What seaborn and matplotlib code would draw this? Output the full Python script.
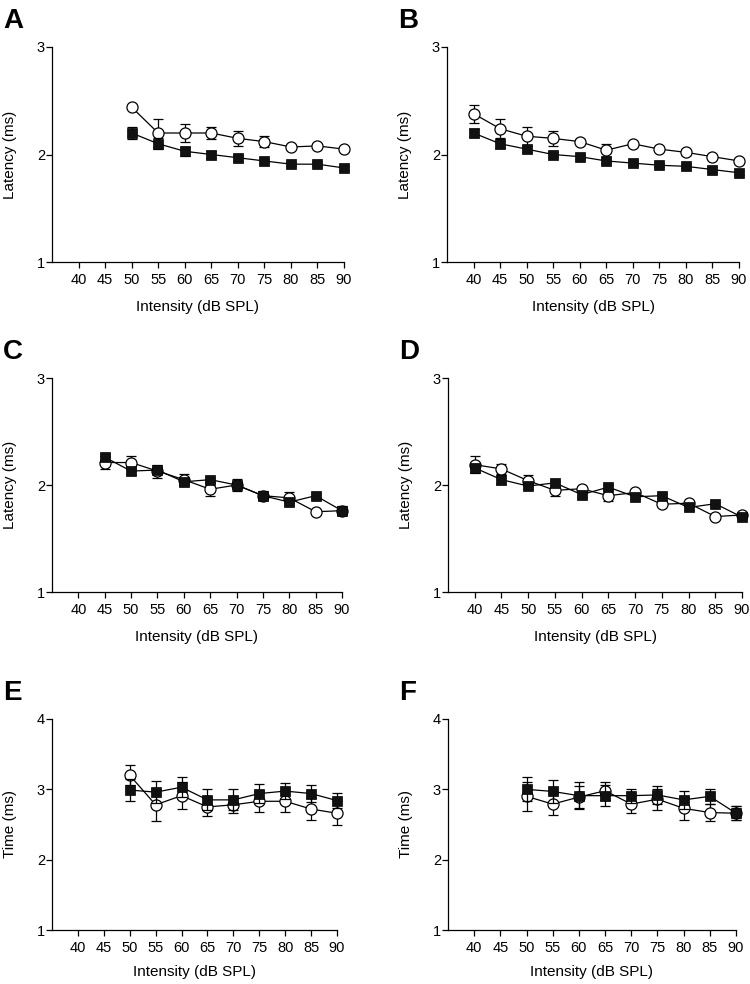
import matplotlib
matplotlib.use("Agg")
import matplotlib.pyplot as plt
import pandas as pd
import seaborn as sns

sns.set_theme(style="ticks")
plt.rcParams['font.family'] = ['Liberation Sans', 'DejaVu Sans']

intensity_ticks = [40, 45, 50, 55, 60, 65, 70, 75, 80, 85, 90]

# Panel A (latency, from 50 dB)
a_x = [50, 55, 60, 65, 70, 75, 80, 85, 90]
a_open = [2.44, 2.20, 2.20, 2.20, 2.15, 2.12, 2.07, 2.08, 2.05]
a_open_err = [0.02, 0.13, 0.08, 0.06, 0.07, 0.05, 0.02, 0.02, 0.02]
a_fill = [2.20, 2.10, 2.03, 2.00, 1.97, 1.94, 1.91, 1.91, 1.875]
a_fill_err = [0.06, 0.05, 0.04, 0.03, 0.03, 0.02, 0.02, 0.02, 0.02]

# Panel B (latency, from 40 dB)
b_x = [40, 45, 50, 55, 60, 65, 70, 75, 80, 85, 90]
b_open = [2.38, 2.24, 2.17, 2.15, 2.12, 2.04, 2.10, 2.05, 2.02, 1.98, 1.94]
b_open_err = [0.085, 0.09, 0.09, 0.07, 0.02, 0.06, 0.02, 0.02, 0.02, 0.02, 0.02]
b_fill = [2.20, 2.10, 2.05, 2.00, 1.98, 1.94, 1.92, 1.90, 1.89, 1.86, 1.83]
b_fill_err = [0.04, 0.04, 0.03, 0.02, 0.02, 0.02, 0.02, 0.02, 0.02, 0.02, 0.02]

# Panel C (latency, from 45 dB)
c_x = [45, 50, 55, 60, 65, 70, 75, 80, 85, 90]
c_open = [2.21, 2.21, 2.13, 2.05, 1.96, 2.00, 1.90, 1.88, 1.75, 1.76]
c_open_err = [0.06, 0.06, 0.06, 0.05, 0.06, 0.06, 0.04, 0.05, 0.02, 0.04]
c_fill = [2.26, 2.13, 2.14, 2.03, 2.05, 2.00, 1.90, 1.84, 1.90, 1.76]
c_fill_err = [0.03, 0.03, 0.03, 0.03, 0.02, 0.03, 0.03, 0.03, 0.02, 0.03]

# Panel D (latency, from 40 dB)
d_x = [40, 45, 50, 55, 60, 65, 70, 75, 80, 85, 90]
d_open = [2.19, 2.15, 2.04, 1.95, 1.965, 1.90, 1.93, 1.82, 1.83, 1.705, 1.72]
d_open_err = [0.08, 0.05, 0.05, 0.05, 0.02, 0.05, 0.02, 0.02, 0.02, 0.02, 0.02]
d_fill = [2.16, 2.05, 1.99, 2.02, 1.91, 1.98, 1.89, 1.90, 1.79, 1.825, 1.70]
d_fill_err = [0.04, 0.04, 0.03, 0.02, 0.02, 0.02, 0.02, 0.02, 0.02, 0.02, 0.02]

# Panel E (time, from 50 dB)
e_x = [50, 55, 60, 65, 70, 75, 80, 85, 90]
e_open = [3.20, 2.78, 2.91, 2.75, 2.78, 2.83, 2.83, 2.72, 2.66]
e_open_err = [0.14, 0.23, 0.19, 0.13, 0.12, 0.15, 0.15, 0.15, 0.17]
e_fill = [2.99, 2.96, 3.03, 2.85, 2.85, 2.94, 2.975, 2.94, 2.84]
e_fill_err = [0.15, 0.16, 0.14, 0.15, 0.15, 0.14, 0.11, 0.12, 0.11]

# Panel F (time, from 50 dB)
f_x = [50, 55, 60, 65, 70, 75, 80, 85, 90]
f_open = [2.90, 2.79, 2.89, 2.98, 2.79, 2.86, 2.73, 2.67, 2.66]
f_open_err = [0.21, 0.16, 0.16, 0.13, 0.12, 0.15, 0.16, 0.12, 0.10]
f_fill = [3.00, 2.97, 2.91, 2.91, 2.91, 2.92, 2.85, 2.90, 2.66]
f_fill_err = [0.17, 0.16, 0.19, 0.15, 0.10, 0.13, 0.13, 0.11, 0.10]

panels = [
    ("A", a_x, a_open, a_open_err, a_fill, a_fill_err, "Latency (ms)", [1, 2, 3]),
    ("B", b_x, b_open, b_open_err, b_fill, b_fill_err, "Latency (ms)", [1, 2, 3]),
    ("C", c_x, c_open, c_open_err, c_fill, c_fill_err, "Latency (ms)", [1, 2, 3]),
    ("D", d_x, d_open, d_open_err, d_fill, d_fill_err, "Latency (ms)", [1, 2, 3]),
    ("E", e_x, e_open, e_open_err, e_fill, e_fill_err, "Time (ms)", [1, 2, 3, 4]),
    ("F", f_x, f_open, f_open_err, f_fill, f_fill_err, "Time (ms)", [1, 2, 3, 4]),
]

# axes rectangles in pixels: left, top, right (x=90), bottom
rects_px = [
    (52, 47, 344, 262),
    (447, 47, 739, 262),
    (52, 378, 342, 592),
    (448, 378, 742, 592),
    (52, 719, 337, 930),
    (448, 719, 736, 930),
]
xlabel_gap = [38, 38, 38, 38, 35, 35]

W, H = 750, 984
fig = plt.figure(figsize=(W / 100, H / 100), dpi=100)

for (letter, x, op, op_err, fl, fl_err, ylab, yticks), (l, t, r, b), gap in zip(panels, rects_px, xlabel_gap):
    ax = fig.add_axes([l / W, 1 - b / H, (r - l) / W, (b - t) / H])
    df = pd.DataFrame({"x": x, "open": op, "fill": fl})

    ax.errorbar(x, op, yerr=op_err, fmt="none", ecolor="black", elinewidth=0.9,
                capsize=3.5, capthick=0.9, zorder=2, clip_on=False)
    sns.lineplot(data=df, x="x", y="open", ax=ax, color="black", linewidth=0.9,
                 marker="o", markersize=8, markerfacecolor="white",
                 markeredgecolor="black", markeredgewidth=0.9, zorder=3, clip_on=False)
    ax.errorbar(x, fl, yerr=fl_err, fmt="none", ecolor="black", elinewidth=0.9,
                capsize=3.5, capthick=0.9, zorder=4, clip_on=False)
    sns.lineplot(data=df, x="x", y="fill", ax=ax, color="black", linewidth=0.9,
                 marker="s", markersize=6.5, markerfacecolor="#111111",
                 markeredgecolor="black", markeredgewidth=0.5, zorder=5, clip_on=False)

    ax.set_xlim(35, 90)
    ax.set_ylim(yticks[0], yticks[-1])
    ax.set_xticks(intensity_ticks)
    ax.set_yticks(yticks)
    sns.despine(ax=ax)
    for s in ("left", "bottom"):
        ax.spines[s].set_linewidth(0.9)
        ax.spines[s].set_color("black")
    ax.tick_params(axis="x", direction="out", length=4, width=0.9, pad=4,
                   labelsize=10.5, colors="black")
    ax.tick_params(axis="y", direction="out", length=4, width=0.9, pad=1,
                   labelsize=10.5, colors="black")

    ax.set_xlabel("Intensity (dB SPL)", fontsize=11, color="black")
    ax.set_ylabel(ylab, fontsize=11, color="black")
    ax.xaxis.set_label_coords(0.5, -gap / (b - t))
    ax.yaxis.set_label_coords(-35 / (r - l), 0.5)

    fig.text((l - 49) / W, 1 - (t - 39) / H, letter, fontsize=20, fontweight="bold",
             ha="left", va="top", color="black")

fig.savefig("out.png", dpi=100)
